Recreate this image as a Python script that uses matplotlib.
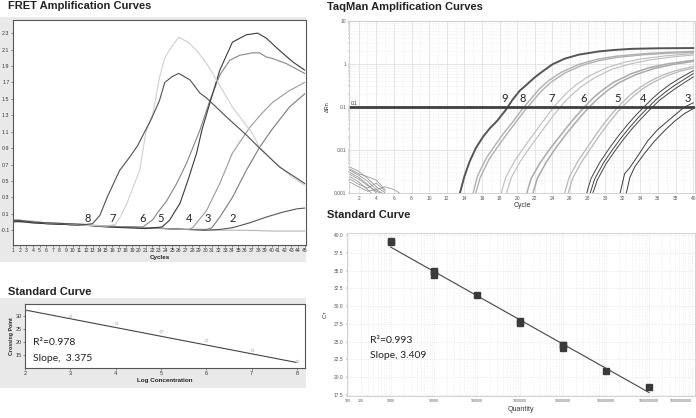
import matplotlib
matplotlib.use('Agg')
import matplotlib.pyplot as plt
from matplotlib.patches import Rectangle
from matplotlib.ticker import LogLocator, MultipleLocator, NullFormatter

plt.rcParams['font.family'] = ['Liberation Sans', 'DejaVu Sans']

# ---------------- FRET amplification curves (cycle, fluorescence) ----------------
fret8_cyc = [1, 2, 4, 6, 9, 12, 13, 14.1, 15.2, 16.4, 17.1, 18.6, 19.8, 21, 21.9, 23.1, 23.9, 25, 26,
             27.7, 29.2, 30.2, 33.2, 36.2, 38.2, 41.2, 45]
fret8_val = [0.02, 0.02, 0.0, -0.01, -0.02, -0.03, -0.02, 0.08, 0.30, 0.51, 0.63, 0.79, 0.93, 1.12, 1.26,
             1.48, 1.70, 1.77, 1.81, 1.73, 1.57, 1.51, 1.28, 1.06, 0.90, 0.67, 0.47]
fret7_cyc = [1, 2, 4, 6, 9, 12, 15, 16.4, 17.1, 18.2, 19.1, 20.1, 20.6, 21, 22.1, 23.1, 23.9, 24.9, 26,
             27.4, 28.7, 30.2, 31.7, 34.1, 37.1, 38.2, 40.2, 43.2, 45]
fret7_val = [0.03, 0.02, 0.01, -0.01, -0.02, -0.04, -0.05, -0.03, 0.05, 0.23, 0.42, 0.63, 0.87, 1.08, 1.32,
             1.76, 2.0, 2.13, 2.25, 2.19, 2.09, 1.93, 1.73, 1.40, 1.08, 0.91, 0.75, 0.54, 0.45]
fret6_cyc = [1, 2, 4, 6, 9, 12, 15, 18, 20.6, 22.1, 22.7, 24.2, 25.7, 27.2, 29.2, 30.7, 32.2, 33.7, 35.2,
             37.1, 38.2, 39.2, 40.2, 42.2, 45]
fret6_val = [0.01, 0.01, 0.0, -0.02, -0.03, -0.04, -0.05, -0.06, -0.06, 0.03, 0.1, 0.26, 0.47, 0.72, 1.12,
             1.48, 1.79, 1.97, 2.03, 2.06, 2.06, 2.01, 1.99, 1.93, 1.81]
fret5_cyc = [1, 2, 4, 6, 9, 12, 15, 18, 21, 23.5, 24.6, 26.2, 27.4, 28.7, 29.5, 30.7, 32.2, 34.1, 36.2,
             37.9, 39.2, 41.2, 43.2, 45]
fret5_val = [0.0, 0.01, -0.01, -0.02, -0.03, -0.04, -0.06, -0.07, -0.08, -0.06, 0.02, 0.23, 0.51, 0.84,
             1.12, 1.45, 1.85, 2.19, 2.28, 2.30, 2.24, 2.09, 1.95, 1.85]
fret4_cyc = [1, 2, 4, 6, 9, 12, 15, 18, 21, 24, 26, 27.5, 28.1, 30.2, 32.2, 34.1, 36.7, 38.5, 40.2, 42.7, 45]
fret4_val = [0.02, 0.01, 0.0, -0.01, -0.02, -0.04, -0.05, -0.06, -0.07, -0.08, -0.09, -0.09, -0.07, 0.14,
             0.47, 0.84, 1.15, 1.32, 1.46, 1.60, 1.70]
fret3_cyc = [1, 2, 4, 6, 9, 12, 15, 18, 21, 24, 27, 30.2, 31, 32.2, 34.1, 36.2, 38.2, 40.1, 42.7, 45]
fret3_val = [0.01, 0.0, -0.01, -0.02, -0.03, -0.04, -0.05, -0.06, -0.07, -0.08, -0.09, -0.09, -0.07, 0.06,
             0.30, 0.63, 0.91, 1.13, 1.40, 1.56]
fret2_cyc = [1, 2, 4, 6, 9, 12, 15, 18, 21, 24, 27, 30, 32.2, 34.1, 36.7, 39.2, 41.7, 43.8, 45]
fret2_val = [0.02, 0.02, 0.0, -0.01, -0.03, -0.04, -0.05, -0.06, -0.07, -0.08, -0.09, -0.1, -0.09, -0.07,
             -0.01, 0.06, 0.12, 0.16, 0.17]
fret_neg_cyc = [1, 2, 4, 6, 9, 12, 15, 18, 21, 24, 27, 30, 33, 36, 40, 45]
fret_neg_val = [0.03, 0.02, 0.01, -0.01, -0.02, -0.03, -0.05, -0.06, -0.07, -0.08, -0.09, -0.1, -0.1, -0.1,
                -0.11, -0.11]
fret_labels = ['8', '7', '6', '5', '4', '3', '2']
fret_label_cyc = [12.3, 16.1, 20.6, 23.3, 27.5, 30.4, 34.1]

# ---------------- FRET standard curve ----------------
fret_logconc = [2, 3, 4, 5, 6, 7, 8]
fret_cp = [32.3, 30.0, 27.3, 24.2, 20.8, 16.9, 12.7]
fret_fit_x = [2, 8]
fret_fit_y = [32.3, 12.1]

# ---------------- TaqMan amplification curves (cycle, delta Rn) ----------------
tq9_cyc = [13.5, 14, 14.6, 15.3, 16.1, 16.9, 17.7, 18.7, 19.5, 20.3, 21, 22, 23, 24, 25.4, 27, 29.2, 31, 33, 36, 40]
tq9_val = [0.001, 0.0024, 0.0054, 0.011, 0.02, 0.032, 0.047, 0.085, 0.15, 0.24, 0.32, 0.49, 0.7, 0.98, 1.33,
           1.65, 1.95, 2.12, 2.25, 2.32, 2.35]
tq8a_cyc = [15.0, 15.5, 16.5, 17.5, 18.5, 19.5, 20.5, 21.5, 22.5, 23.5, 25, 27, 29, 31, 34, 37, 40]
tq8a_val = [0.001, 0.0025, 0.0065, 0.013, 0.025, 0.045, 0.085, 0.15, 0.26, 0.4, 0.64, 0.98, 1.28, 1.5, 1.72,
            1.87, 1.97]
tq8b_cyc = [15.3, 15.8, 16.8, 17.8, 18.8, 19.8, 20.8, 21.8, 22.8, 23.8, 25.3, 27.3, 29.3, 31.3, 34.3, 37.3, 40]
tq8b_val = [0.001, 0.0023, 0.006, 0.012, 0.023, 0.043, 0.08, 0.14, 0.24, 0.37, 0.6, 0.92, 1.2, 1.42, 1.64,
            1.78, 1.86]
tq7a_cyc = [18.2, 18.7, 19.7, 20.7, 21.7, 22.7, 23.7, 24.7, 25.7, 26.7, 28.2, 30.2, 32.2, 34.2, 37, 40]
tq7a_val = [0.001, 0.0023, 0.0055, 0.011, 0.021, 0.04, 0.075, 0.135, 0.22, 0.33, 0.53, 0.83, 1.1, 1.32, 1.56, 1.74]
tq7b_cyc = [18.8, 19.3, 20.3, 21.3, 22.3, 23.3, 24.3, 25.3, 26.3, 27.3, 28.8, 30.8, 32.8, 34.8, 37.5, 40]
tq7b_val = [0.001, 0.0022, 0.0052, 0.0105, 0.02, 0.038, 0.071, 0.125, 0.2, 0.3, 0.48, 0.76, 1.0, 1.22, 1.45, 1.62]
tq6a_cyc = [21.1, 21.6, 22.6, 23.6, 24.6, 25.6, 26.6, 27.6, 28.6, 29.6, 31, 33, 35, 37, 40]
tq6a_val = [0.001, 0.0022, 0.005, 0.0098, 0.018, 0.033, 0.058, 0.098, 0.16, 0.24, 0.38, 0.6, 0.82, 1.0, 1.22]
tq6b_cyc = [21.8, 22.3, 23.3, 24.3, 25.3, 26.3, 27.3, 28.3, 29.3, 30.3, 31.6, 33.5, 35.5, 37.5, 40]
tq6b_val = [0.001, 0.0022, 0.0052, 0.0105, 0.02, 0.036, 0.063, 0.105, 0.165, 0.245, 0.37, 0.57, 0.78, 0.96, 1.15]
tq5a_cyc = [25.4, 25.9, 26.9, 27.9, 28.9, 29.9, 30.9, 31.9, 32.9, 33.9, 35, 36.5, 38, 40]
tq5a_val = [0.001, 0.0023, 0.0055, 0.011, 0.022, 0.042, 0.075, 0.125, 0.195, 0.28, 0.39, 0.55, 0.7, 0.88]
tq5b_cyc = [25.8, 26.3, 27.3, 28.3, 29.3, 30.3, 31.3, 32.3, 33.3, 34.3, 35.5, 37, 38.5, 40]
tq5b_val = [0.001, 0.0022, 0.0052, 0.0105, 0.021, 0.04, 0.072, 0.12, 0.185, 0.27, 0.38, 0.53, 0.68, 0.8]
tq4a_cyc = [27.9, 28.4, 29.4, 30.4, 31.4, 32.4, 33.4, 34.4, 35.4, 36.4, 37.4, 38.5, 40]
tq4a_val = [0.001, 0.0022, 0.0052, 0.0105, 0.02, 0.036, 0.062, 0.1, 0.16, 0.24, 0.34, 0.47, 0.7]
tq4b_cyc = [28.3, 28.8, 29.8, 30.8, 31.8, 32.8, 33.8, 34.8, 35.8, 36.8, 37.8, 38.9, 40]
tq4b_val = [0.001, 0.0021, 0.005, 0.01, 0.019, 0.034, 0.058, 0.094, 0.15, 0.22, 0.31, 0.43, 0.6]
tq4c_cyc = [28.6, 29.1, 30.1, 31.1, 32.1, 33.1, 34.1, 35.1, 36.1, 37.1, 38.1, 39.1, 40]
tq4c_val = [0.001, 0.002, 0.0048, 0.0095, 0.018, 0.032, 0.054, 0.088, 0.14, 0.2, 0.28, 0.38, 0.5]
tq3a_cyc = [31.7, 32.2, 32.8, 33.8, 34.8, 35.9, 37.1, 38.1, 39, 40]
tq3a_val = [0.001, 0.0028, 0.0039, 0.0078, 0.016, 0.029, 0.047, 0.07, 0.1, 0.125]
tq3b_cyc = [32.4, 32.8, 33.4, 34.5, 35.6, 36.8, 37.9, 39, 40]
tq3b_val = [0.001, 0.0023, 0.0042, 0.0085, 0.016, 0.029, 0.047, 0.07, 0.092]
# baseline noise of the no-template wells
noise_cyc = [1, 2, 3, 4, 5]
noise_a = [0.0040, 0.0032, 0.0022, 0.0014, 0.0010]
noise_b = [0.0034, 0.0026, 0.0019, 0.0012, 0.0009]
noise_c = [0.0030, 0.0023, 0.0016, 0.0010, 0.0008]
noise_d = [0.0027, 0.0021, 0.0015, 0.0011, 0.0009]
noise_e = [0.0024, 0.0018, 0.0012, 0.0008, 0.0007]
noise_f = [0.0021, 0.0016, 0.0013, 0.0017, 0.0011]
noise_g = [0.0036, 0.0028, 0.0024, 0.0020, 0.0012]
noise_long_cyc = [1, 2, 3, 4, 5, 6, 7]
noise_long = [0.0018, 0.0014, 0.0011, 0.0012, 0.0014, 0.0012, 0.0009]
tq_labels = ['9', '8', '7', '6', '5', '4', '3']
tq_label_cyc = [18.6, 20.6, 23.9, 27.6, 31.4, 34.3, 39.4]
threshold = 0.1

# ---------------- TaqMan standard curve ----------------
tq_quantity = [1e3, 1e3, 1e4, 1e4, 1e4, 1e5, 1e6, 1e6, 1e7, 1e7, 1e7, 1e8, 1e9]
tq_ct = [39.0, 39.2, 34.4, 34.8, 35.0, 31.6, 27.6, 27.9, 24.1, 24.5, 24.6, 20.9, 18.6]
tq_fit_x = [1e3, 1e9]
tq_fit_y = [38.3, 17.85]
quantity_ticks = [100, 200, 1e3, 1e4, 1e5, 1e6, 1e7, 1e8, 1e9, 1e10]
quantity_labels = ['100', '200', '1000', '10000', '100000', '1000000', '10000000', '100000000',
                   '1000000000', '10000000000']

W, H = 696, 418


def box(x0, y0, x1, y1):
    # pixel box (from top-left) -> figure fraction rect
    return [x0 / W, 1 - y1 / H, (x1 - x0) / W, (y1 - y0) / H]


fig = plt.figure(figsize=(6.96, 4.18), dpi=100)

# grey panels behind the two FRET plots (zorder below the axes)
fig.patches.append(Rectangle((0, 1 - 262 / H), 306 / W, 245 / H, transform=fig.transFigure,
                             facecolor='#e9e9e9', edgecolor='none', zorder=-5))
fig.patches.append(Rectangle((0, 1 - 388 / H), 306 / W, 90 / H, transform=fig.transFigure,
                             facecolor='#e9e9e9', edgecolor='none', zorder=-5))

title_kw = dict(fontsize=8, fontweight='bold', color='#222222', va='center', ha='left')
fig.text(8 / W, 1 - 6 / H, 'FRET Amplification Curves', **title_kw)
fig.text(327 / W, 1 - 7 / H, 'TaqMan Amplification Curves', **title_kw)
fig.text(8 / W, 1 - 292 / H, 'Standard Curve', **title_kw)
fig.text(327 / W, 1 - 215 / H, 'Standard Curve', **title_kw)

note_font = ['Lato', 'DejaVu Sans']

# ---- FRET amplification ----
ax1 = fig.add_axes(box(13, 20, 306, 245))
fret_curves = [
    (fret_neg_cyc, fret_neg_val, '#b5b5b5'),
    (fret2_cyc, fret2_val, '#555555'),
    (fret3_cyc, fret3_val, '#7a7a7a'),
    (fret4_cyc, fret4_val, '#9a9a9a'),
    (fret6_cyc, fret6_val, '#858585'),
    (fret5_cyc, fret5_val, '#3a3a3a'),
    (fret7_cyc, fret7_val, '#cfcfcf'),
    (fret8_cyc, fret8_val, '#4f4f4f'),
]
for cyc, val, col in fret_curves:
    ax1.plot(cyc, val, color=col, lw=0.8)
for lab, c in zip(fret_labels, fret_label_cyc):
    ax1.text(c, 0.045, lab, fontsize=8, family=note_font, ha='center', va='center', color='#222222')
ax1.set_xlim(1, 45.2)
ax1.set_ylim(-0.28, 2.46)
ax1.set_xticks(range(1, 46))
ax1.set_yticks([-0.1, 0.1, 0.3, 0.5, 0.7, 0.9, 1.1, 1.3, 1.5, 1.7, 1.9, 2.1, 2.3])
ax1.set_yticklabels(['-0.1', '0.1', '0.3', '0.5', '0.7', '0.9', '1.1', '1.3', '1.5', '1.7', '1.9', '2.1', '2.3'])
ax1.tick_params(axis='x', labelsize=3.6, length=1.5, width=0.4, pad=1, colors='#333333')
ax1.tick_params(axis='y', labelsize=3.8, length=1.5, width=0.4, pad=1, colors='#333333')
ax1.set_xlabel('Cycles', fontsize=4.5, fontweight='bold', labelpad=1, color='#222222')
for s in ax1.spines.values():
    s.set_color('#555555')
    s.set_linewidth(0.8)

# ---- FRET standard curve ----
ax2 = fig.add_axes(box(25, 304, 305, 368))
ax2.plot(fret_fit_x, fret_fit_y, color='#444444', lw=0.8)
ax2.plot(fret_logconc, fret_cp, 'o', ms=2, mfc='none', mec='#c0c0c0', mew=0.5)
ax2.set_xlim(2, 8.18)
ax2.set_ylim(10, 34.6)
ax2.set_xticks(fret_logconc)
ax2.set_yticks([15, 20, 25, 30])
ax2.tick_params(labelsize=4, length=1.5, width=0.4, pad=1, colors='#333333')
ax2.set_xlabel('Log Concentration', fontsize=4.5, fontweight='bold', labelpad=1, color='#222222')
ax2.set_ylabel('Crossing Point', fontsize=3.8, fontweight='bold', labelpad=1, color='#222222')
ax2.text(2.17, 19.7, 'R²=0.978', fontsize=7.5, family=note_font, va='center', color='#222222')
ax2.text(2.17, 13.6, 'Slope,  3.375', fontsize=7.5, family=note_font, va='center', color='#222222')
for s in ax2.spines.values():
    s.set_color('#555555')
    s.set_linewidth(0.8)

# ---- TaqMan amplification ----
ax3 = fig.add_axes(box(349, 21, 695, 193))
ax3.set_yscale('log')
ax3.set_xlim(0.9, 40.2)
ax3.set_ylim(0.001, 10)
ax3.xaxis.set_major_locator(MultipleLocator(2))
ax3.xaxis.set_minor_locator(MultipleLocator(1))
ax3.yaxis.set_major_locator(LogLocator(base=10))
ax3.yaxis.set_minor_locator(LogLocator(base=10, subs=range(2, 10)))
ax3.yaxis.set_minor_formatter(NullFormatter())
ax3.set_yticks([0.001, 0.01, 0.1, 1, 10])
ax3.set_yticklabels(['0.001', '0.01', '0.1', '1', '10'])
ax3.grid(True, which='major', color='#dadada', lw=0.5, ls='-')
ax3.grid(True, which='minor', color='#e0e0e0', lw=0.4, ls=':')
ax3.tick_params(which='both', labelsize=3.5, length=1, width=0.3, pad=1, colors='#555555')
for nc, nv in [(noise_cyc, noise_a), (noise_cyc, noise_b), (noise_cyc, noise_c), (noise_cyc, noise_d),
               (noise_cyc, noise_e), (noise_cyc, noise_f), (noise_cyc, noise_g), (noise_long_cyc, noise_long)]:
    ax3.plot(nc, nv, color='#888888', lw=0.5)
tq_curves = [
    (tq3a_cyc, tq3a_val, '#3c3c3c', 0.7), (tq3b_cyc, tq3b_val, '#3c3c3c', 0.7),
    (tq4a_cyc, tq4a_val, '#444444', 0.7), (tq4b_cyc, tq4b_val, '#444444', 0.7),
    (tq4c_cyc, tq4c_val, '#444444', 0.7),
    (tq5a_cyc, tq5a_val, '#b8b8b8', 0.9), (tq5b_cyc, tq5b_val, '#b8b8b8', 0.9),
    (tq6a_cyc, tq6a_val, '#aaaaaa', 1.1), (tq6b_cyc, tq6b_val, '#aaaaaa', 1.1),
    (tq7a_cyc, tq7a_val, '#bdbdbd', 0.8), (tq7b_cyc, tq7b_val, '#bdbdbd', 0.8),
    (tq8a_cyc, tq8a_val, '#b0b0b0', 1.0), (tq8b_cyc, tq8b_val, '#b0b0b0', 1.0),
    (tq9_cyc, tq9_val, '#555555', 1.4),
]
for cyc, val, col, lw in tq_curves:
    ax3.plot(cyc, val, color=col, lw=lw)
ax3.axhline(threshold, color='#3f3f3f', lw=2)
ax3.text(1.1, threshold * 1.05, '0.1', fontsize=3.5, color='#333333', va='bottom')
for lab, c in zip(tq_labels, tq_label_cyc):
    ax3.text(c, 0.155, lab, fontsize=8, family=note_font, ha='center', va='center', color='#222222')
ax3.set_xlabel('Cycle', fontsize=5, labelpad=1, color='#333333')
ax3.set_ylabel('ΔRn', fontsize=4, labelpad=3, color='#333333')
for s in ax3.spines.values():
    s.set_color('#cccccc')
    s.set_linewidth(0.6)

# ---- TaqMan standard curve ----
ax4 = fig.add_axes(box(347, 233, 695, 396))
ax4.set_xscale('log')
ax4.set_xlim(97, 1.17e10)
ax4.set_ylim(17.36, 40.28)
ax4.xaxis.set_minor_locator(LogLocator(base=10, subs=range(2, 10)))
ax4.xaxis.set_minor_formatter(NullFormatter())
ax4.set_xticks(quantity_ticks)
ax4.set_xticklabels(quantity_labels)
ax4.get_xticklabels()[-1].set_horizontalalignment('right')
ax4.set_yticks([17.5, 20, 22.5, 25, 27.5, 30, 32.5, 35, 37.5, 40])
ax4.set_yticklabels(['17.5', '20.0', '22.5', '25.0', '27.5', '30.0', '32.5', '35.0', '37.5', '40.0'])
ax4.grid(True, which='major', color='#d8d8d8', lw=0.5, ls=':')
ax4.grid(True, which='minor', axis='x', color='#dddddd', lw=0.4, ls=':')
ax4.tick_params(axis='x', which='both', labelsize=2.6, length=1, width=0.3, pad=1.5, colors='#555555')
ax4.tick_params(axis='y', labelsize=3.5, length=1, width=0.3, pad=1.5, colors='#555555')
ax4.plot(tq_fit_x, tq_fit_y, color='#444444', lw=0.8)
ax4.plot(tq_quantity, tq_ct, 's', ms=4, color='#3a3a3a')
ax4.text(330, 25.1, 'R²=0.993', fontsize=7.5, family=note_font, va='center', color='#222222')
ax4.text(330, 23.1, 'Slope, 3.409', fontsize=7.5, family=note_font, va='center', color='#222222')
ax4.set_xlabel('Quantity', fontsize=5, labelpad=2, color='#333333')
ax4.set_ylabel('C$_\\mathrm{T}$', fontsize=4.5, labelpad=3, color='#333333')
for s in ax4.spines.values():
    s.set_color('#cccccc')
    s.set_linewidth(0.6)

fig.savefig('out.png', dpi=100)
